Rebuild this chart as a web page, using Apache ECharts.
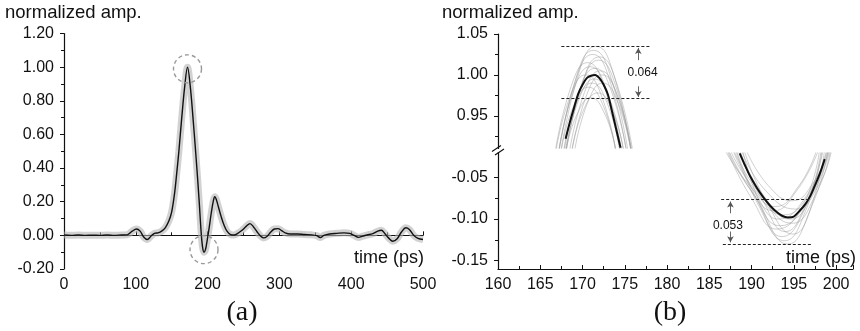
<!DOCTYPE html>
<html><head><meta charset="utf-8">
<script src="https://cdn.jsdelivr.net/npm/echarts@6/dist/echarts.min.js"></script>
<style>html,body{margin:0;padding:0;background:#fff}#c{width:860px;height:331px}</style>
</head><body><div id="c"></div>
<script>
// ---------- panel (a): mean pulse ----------
const leftTime = [0,10,20,30,40,50,60,70,80,88,95,101,106,111,116,121,126,131,136,141,146,150,154,157,160,164,168,172,176,180,184,188,191,193,195,197,199,202,205,208,210,212,215,219,223,227,232,237,242,248,254,259,264,269,274,278,283,288,293,298,303,308,315,325,335,345,352,357,362,370,380,390,398,404,410,416,422,430,437,442,447,452,458,464,470,476,481,487,493,500];
const leftAmp  = [0.002,0.0,0.002,0.0,0.001,0.0,0.002,0.0,0.002,0.003,0.025,0.038,0.025,-0.01,-0.025,-0.005,0.012,0.015,0.025,0.045,0.085,0.14,0.25,0.37,0.5,0.70,0.88,1.0,0.88,0.68,0.46,0.22,0.02,-0.07,-0.10,-0.085,-0.04,0.04,0.13,0.205,0.23,0.215,0.17,0.11,0.06,0.025,0.005,0.002,0.012,0.03,0.055,0.07,0.05,0.02,-0.005,-0.015,-0.005,0.02,0.038,0.04,0.028,0.015,0.008,0.008,0.005,0.003,-0.002,-0.013,0.0,0.008,0.012,0.015,0.012,0.0,-0.012,-0.005,0.002,0.01,0.025,0.03,0.01,-0.015,-0.035,-0.02,0.02,0.045,0.035,0.0,-0.018,-0.025];
const leftTicksY = [-0.2, 1.2, 0.2];
const leftTicksX = [0, 500, 100];
const circleMarks = [[172, 0.99], [195, -0.085]];

// ---------- panel (b): zoom on peak and trough ----------
const peakTime = [168.0,168.5,169.0,169.5,170.0,170.5,171.0,171.5,172.0,172.5,173.0,173.5,174.0,174.5];
const peakAmp  = [0.922,0.942,0.960,0.977,0.988,0.996,0.999,1.0,0.996,0.988,0.976,0.955,0.933,0.911];
const troughTime = [188.6,189.2,189.8,190.6,191.4,192.2,192.9,193.6,194.3,195.0,195.6,196.3,196.9,197.4,197.9,198.3,198.65];
const troughAmp  = [-0.021,-0.035,-0.048,-0.062,-0.074,-0.084,-0.091,-0.096,-0.098,-0.097,-0.091,-0.083,-0.073,-0.062,-0.05,-0.039,-0.028];
const peakTraces = [
  [[167.49,0.91],[169.96,1.015],[171.6,1.035],[173.24,1.015],[175.71,0.91]],
  [[167.26,0.91],[169.56,1.005],[171.2,1.025],[172.84,1.005],[175.14,0.91]],
  [[168.08,0.91],[170.26,0.998],[171.9,1.018],[173.54,0.998],[175.72,0.91]],
  [[167.22,0.91],[169.26,0.99],[170.9,1.01],[172.54,0.99],[174.58,0.91]],
  [[168.52,0.91],[170.46,0.985],[172.1,1.005],[173.74,0.985],[175.68,0.91]],
  [[168.01,0.91],[169.76,0.975],[171.4,0.995],[173.04,0.975],[174.79,0.91]],
  [[167.52,0.91],[169.06,0.965],[170.7,0.985],[172.34,0.965],[173.88,0.91]],
  [[168.77,0.91],[170.16,0.958],[171.8,0.978],[173.44,0.958],[174.83,0.91]],
  [[168.11,0.91],[169.36,0.952],[171.0,0.972],[172.64,0.952],[173.89,0.91]],
  [[169.11,0.91],[170.76,0.97],[172.4,0.99],[174.04,0.97],[175.69,0.91]],
  [[166.91,0.91],[168.76,0.98],[170.4,1.0],[172.04,0.98],[173.89,0.91]],
  [[167.27,0.91],[169.66,1.01],[171.3,1.03],[172.94,1.01],[175.33,0.91]],
  [[168.11,0.91],[170.36,1.002],[172.0,1.022],[173.64,1.002],[175.89,0.91]],
  [[166.83,0.91],[168.96,0.995],[170.6,1.015],[172.24,0.995],[174.37,0.91]],
  [[167.86,0.91],[169.86,0.988],[171.5,1.008],[173.14,0.988],[175.14,0.91]],
  [[168.81,0.91],[170.66,0.98],[172.3,1.0],[173.94,0.98],[175.79,0.91]],
  [[167.81,0.91],[169.46,0.97],[171.1,0.99],[172.74,0.97],[174.39,0.91]]
];
const troughTraces = [
  [[189.0,-0.02],[191.4,-0.09],[194.3,-0.130],[196.7,-0.095],[198.6,-0.02]],
  [[188.3,-0.02],[190.8,-0.08],[193.6,-0.121],[196.2,-0.09],[198.2,-0.02]],
  [[187.2,-0.02],[190.0,-0.075],[193.0,-0.112],[196.0,-0.085],[198.0,-0.02]],
  [[188.0,-0.02],[191.0,-0.07],[194.8,-0.105],[197.6,-0.07],[199.3,-0.02]],
  [[187.6,-0.02],[190.4,-0.065],[193.8,-0.095],[196.8,-0.07],[198.8,-0.02]],
  [[188.9,-0.02],[191.6,-0.065],[195.2,-0.088],[197.9,-0.06],[199.4,-0.02]],
  [[187.0,-0.02],[189.8,-0.06],[192.8,-0.085],[195.6,-0.06],[197.6,-0.02]],
  [[189.5,-0.02],[192.0,-0.06],[194.8,-0.078],[197.4,-0.055],[199.0,-0.02]],
  [[188.5,-0.02],[191.2,-0.075],[194.0,-0.115],[196.5,-0.08],[198.4,-0.02]],
  [[187.9,-0.02],[190.5,-0.07],[193.2,-0.1],[196.3,-0.075],[198.9,-0.02]],
  [[188.2,-0.02],[190.9,-0.085],[193.9,-0.126],[196.4,-0.09],[198.3,-0.02]],
  [[187.4,-0.02],[190.2,-0.07],[193.4,-0.108],[196.5,-0.08],[199.1,-0.02]],
  [[188.7,-0.02],[191.3,-0.07],[194.6,-0.1],[197.2,-0.07],[199.2,-0.02]],
  [[187.3,-0.02],[189.9,-0.065],[192.6,-0.09],[195.4,-0.065],[197.8,-0.02]],
  [[189.2,-0.02],[191.8,-0.08],[194.9,-0.118],[197.3,-0.08],[199.0,-0.02]]
];
const upperLabelsY = [0.95, 1.00, 1.05];
const upperMinorY = [0.925, 0.975, 1.025];
const lowerLabelsY = [-0.15, -0.10, -0.05];
const lowerMinorY = [-0.125, -0.075];
// annotation: spread lines [x1, x2, y], arrows [x, yFrom, yTo], texts [x, y, text]
const peakSpread = [[167.5, 178, 1.035], [167.5, 178, 0.971]];
const peakArrows = [[176.6, 1.018, 1.033], [176.6, 0.986, 0.973]];
const peakText = [177.1, 1.003, '0.064'];
const troughSpread = [[186.4, 196.9, -0.0766], [186.6, 197.1, -0.130]];
const troughArrows = [[187.5, -0.093, -0.079], [187.5, -0.115, -0.128]];
const troughText = [187.2, -0.108, '0.053'];

const FONT = 'Liberation Sans';
const pair = (xs, ys) => xs.map((x, i) => [x, ys[i]]);
const fmt2 = v => Number(v).toFixed(2);

function spreadMarkLine(spreads, arrows) {
  const data = [];
  spreads.forEach(s => data.push([
    {coord: [s[0], s[2]], symbol: 'none', lineStyle: {type: [3, 2], color: '#222', width: 1.2}},
    {coord: [s[1], s[2]], symbol: 'none'}
  ]));
  arrows.forEach(a => data.push([
    {coord: [a[0], a[1]], symbol: 'none', lineStyle: {type: 'solid', color: '#555', width: 0.9}},
    {coord: [a[0], a[2]], symbol: 'arrow', symbolSize: [5, 6]}
  ]));
  return {silent: true, animation: false, symbol: ['none', 'none'], label: {show: false}, data};
}
function textMark(t) {
  return {silent: true, animation: false, data: [{
    coord: [t[0], t[1]], symbol: 'circle', symbolSize: 1, itemStyle: {color: 'rgba(0,0,0,0)'},
    label: {show: true, position: 'inside', formatter: t[2], color: '#111', fontSize: 12, fontFamily: FONT}
  }]};
}

const axisLineStyle = {lineStyle: {color: '#111', width: 1.2}};
const labelStyle = {color: '#111', fontSize: 16, fontFamily: FONT};
const grayTrace = {color: 'rgba(150,150,150,0.45)', width: 1};

const series = [];
series.push({
  type: 'line', xAxisIndex: 0, yAxisIndex: 0, data: pair(leftTime, leftAmp), showSymbol: false, smooth: 0.35,
  lineStyle: {color: 'rgba(180,180,180,0.6)', width: 7}, z: 2, silent: true
});
series.push({
  type: 'line', xAxisIndex: 0, yAxisIndex: 0, data: pair(leftTime, leftAmp), showSymbol: false, smooth: 0.35,
  lineStyle: {color: '#111', width: 1.4}, z: 3,
  markPoint: {silent: true, animation: false, symbol: 'circle', symbolSize: 28, label: {show: false},
    itemStyle: {color: 'rgba(0,0,0,0)', borderColor: '#999', borderWidth: 1.4, borderType: [4, 3]},
    data: circleMarks.map(c => ({coord: c}))}
});
peakTraces.forEach(tr => series.push({
  type: 'line', xAxisIndex: 1, yAxisIndex: 1, data: tr, showSymbol: false, smooth: 0.5, silent: true,
  lineStyle: grayTrace, z: 2
}));
series.push({
  type: 'line', xAxisIndex: 1, yAxisIndex: 1, data: pair(peakTime, peakAmp), showSymbol: false, smooth: 0.3,
  lineStyle: {color: '#111', width: 2}, z: 3,
  markLine: spreadMarkLine(peakSpread, peakArrows), markPoint: textMark(peakText)
});
troughTraces.forEach(tr => series.push({
  type: 'line', xAxisIndex: 2, yAxisIndex: 2, data: tr, showSymbol: false, smooth: 0.5, silent: true,
  lineStyle: grayTrace, z: 2
}));
series.push({
  type: 'line', xAxisIndex: 2, yAxisIndex: 2, data: pair(troughTime, troughAmp), showSymbol: false, smooth: 0.3,
  lineStyle: {color: '#111', width: 2}, z: 3,
  markLine: spreadMarkLine(troughSpread, troughArrows), markPoint: textMark(troughText)
});

const option = {
  animation: false,
  backgroundColor: '#fff',
  grid: [
    {left: 64, top: 33.5, width: 359, height: 235.5},
    {left: 498, top: 34, width: 355, height: 114.5},
    {left: 498, top: 152.5, width: 355, height: 116.5}
  ],
  xAxis: [
    {type: 'value', gridIndex: 0, min: leftTicksX[0], max: leftTicksX[1], interval: leftTicksX[2],
     axisLine: axisLineStyle, axisTick: {inside: true, length: 4, lineStyle: {color: '#111'}},
     minorTick: {show: true, splitNumber: 2, length: 3, lineStyle: {color: '#111'}},
     axisLabel: Object.assign({margin: 8}, labelStyle), splitLine: {show: false}},
    {type: 'value', gridIndex: 1, min: 160, max: 202, show: false, splitLine: {show: false}},
    {type: 'value', gridIndex: 2, min: 160, max: 202, interval: 5,
     axisLine: axisLineStyle, axisTick: {inside: true, length: 4, lineStyle: {color: '#111'}},
     minorTick: {show: true, splitNumber: 2, length: 3, lineStyle: {color: '#111'}},
     axisLabel: Object.assign({margin: 8, showMaxLabel: false}, labelStyle), splitLine: {show: false}}
  ],
  yAxis: [
    {type: 'value', gridIndex: 0, min: leftTicksY[0], max: leftTicksY[1], interval: leftTicksY[2],
     axisLine: {show: true, lineStyle: {color: '#111', width: 1.2}},
     axisTick: {show: true, length: 4, lineStyle: {color: '#111'}},
     minorTick: {show: true, splitNumber: 2, length: 3, lineStyle: {color: '#111'}},
     axisLabel: Object.assign({margin: 10, formatter: fmt2}, labelStyle), splitLine: {show: false}},
    {type: 'value', gridIndex: 1, min: 0.91, max: 1.05,
     axisLine: {show: true, onZero: false, lineStyle: {color: '#111', width: 1.2}},
     axisTick: {show: true, length: 4, customValues: upperLabelsY, lineStyle: {color: '#111'}},
     axisLabel: Object.assign({margin: 10, formatter: fmt2, customValues: upperLabelsY}, labelStyle),
     splitLine: {show: false}},
    {type: 'value', gridIndex: 2, min: -0.16, max: -0.02,
     axisLine: {show: true, onZero: false, lineStyle: {color: '#111', width: 1.2}},
     axisTick: {show: true, length: 4, customValues: lowerLabelsY, lineStyle: {color: '#111'}},
     axisLabel: Object.assign({margin: 10, formatter: fmt2, customValues: lowerLabelsY}, labelStyle),
     splitLine: {show: false}},
    {type: 'value', gridIndex: 1, min: 0.91, max: 1.05, position: 'left',
     axisLine: {show: false}, axisLabel: {show: false}, splitLine: {show: false},
     axisTick: {show: true, length: 3, customValues: upperMinorY, lineStyle: {color: '#111'}}},
    {type: 'value', gridIndex: 2, min: -0.16, max: -0.02, position: 'left',
     axisLine: {show: false}, axisLabel: {show: false}, splitLine: {show: false},
     axisTick: {show: true, length: 3, customValues: lowerMinorY, lineStyle: {color: '#111'}}}
  ],
  graphic: [
    {type: 'text', x: 5, y: 3, style: {text: 'normalized amp.', font: '18.5px "Liberation Sans"', fill: '#111'}},
    {type: 'text', x: 442, y: 3, style: {text: 'normalized amp.', font: '18.5px "Liberation Sans"', fill: '#111'}},
    {type: 'text', x: 424, y: 258, style: {text: 'time (ps)', font: '18px "Liberation Sans"', fill: '#111', textAlign: 'right', textVerticalAlign: 'middle'}},
    {type: 'text', x: 856, y: 258, style: {text: 'time (ps)', font: '18px "Liberation Sans"', fill: '#111', textAlign: 'right', textVerticalAlign: 'middle'}},
    {type: 'text', x: 242, y: 313, style: {text: '(a)', font: '28px "Liberation Serif"', fill: '#111', textAlign: 'center', textVerticalAlign: 'middle'}},
    {type: 'text', x: 670, y: 313, style: {text: '(b)', font: '28px "Liberation Serif"', fill: '#111', textAlign: 'center', textVerticalAlign: 'middle'}},
    {type: 'line', shape: {x1: 492, y1: 151.5, x2: 501, y2: 145.5}, style: {stroke: '#111', lineWidth: 1.2}},
    {type: 'line', shape: {x1: 495, y1: 155, x2: 504, y2: 149}, style: {stroke: '#111', lineWidth: 1.2}}
  ],
  series
};
const chart = echarts.init(document.getElementById('c'), null, {renderer: 'canvas'});
chart.setOption(option);
</script></body></html>
